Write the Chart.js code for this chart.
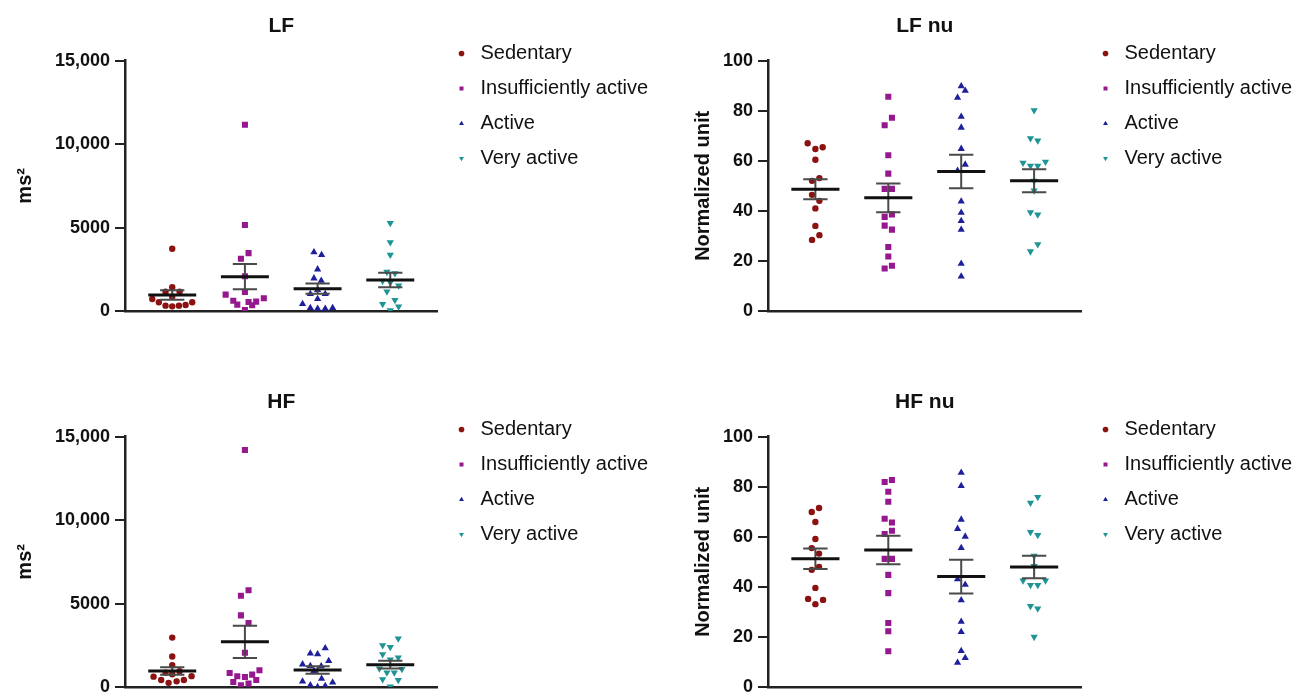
<!DOCTYPE html>
<html>
<head>
<meta charset="utf-8">
<script src="https://cdn.jsdelivr.net/npm/chart.js@4.4.1/dist/chart.umd.min.js"></script>
<style>
html, body { margin: 0; padding: 0; background: #ffffff; overflow: hidden; width: 1293px; height: 693px; }
canvas { position: absolute; }
</style>
</head>
<body>
<canvas id="cLF" width="658" height="340" style="left:0px;top:0px"></canvas>
<canvas id="cLFnu" width="624" height="340" style="left:678px;top:0px"></canvas>
<canvas id="cHF" width="658" height="340" style="left:0px;top:376px"></canvas>
<canvas id="cHFnu" width="624" height="340" style="left:678px;top:376px"></canvas>
<script>
// ---------------- DATA ----------------
const categories = ['Sedentary', 'Insufficiently active', 'Active', 'Very active'];
const panelTitles = ['LF', 'LF nu', 'HF', 'HF nu'];
const yTitles = ['ms\u00B2', 'Normalized unit'];

const msTicks = [0, 5000, 10000, 15000];
const msTickLabels = ['0', '5000', '10,000', '15,000'];
const nuTicks = [0, 20, 40, 60, 80, 100];
const nuTickLabels = ['0', '20', '40', '60', '80', '100'];

// LF (ms²) – values and within-group swarm jitter (category units)
const lfSedentary = [3730, 1420, 1160, 1160, 860, 720, 520, 320, 280, 320, 360, 520];
const lfSedentaryJit = [0, 0, -0.092, 0.101, 0, -0.275, -0.184, -0.092, 0, 0.092, 0.184, 0.275];
const lfInsufficient = [11160, 5150, 3470, 3130, 2080, 1140, 980, 610, 380, 540, 340, 560, 760, 60];
const lfInsufficientJit = [0, 0, 0.05, -0.055, 0, 0, -0.265, -0.16, -0.105, 0.05, 0.1, 0.155, 0.26, 0];
const lfActive = [3530, 3360, 2500, 1960, 1820, 1260, 1020, 1020, 720, 420, 180, 140, 140, 180];
const lfActiveJit = [-0.05, 0.055, 0, -0.05, 0.05, 0, -0.1, 0.105, 0, -0.207, -0.1, 0, 0.105, 0.207];
const lfVery = [5270, 4110, 3370, 2340, 2260, 1800, 1700, 1520, 1160, 660, 420, 260, 40];
const lfVeryJit = [0, 0, 0, -0.046, 0.064, -0.105, 0, 0.115, -0.046, 0.064, -0.105, 0.115, 0];
const lfMean = [960, 2060, 1340, 1860];
const lfSem = [290, 750, 310, 430];

// LF nu (normalized unit)
const lfnuSedentary = [67.0, 64.7, 65.4, 60.4, 53.1, 52.0, 46.4, 44.0, 41.0, 34.0, 30.3, 28.4];
const lfnuSedentaryJit = [-0.106, 0, 0.1, 0, 0.055, -0.046, -0.046, 0.055, 0, 0, 0.055, -0.046];
const lfnuInsufficient = [85.6, 77.2, 74.2, 62.2, 54.9, 48.8, 48.8, 38.6, 37.6, 34.1, 32.5, 25.6, 21.8, 18.1, 17.0];
const lfnuInsufficientJit = [0, 0.05, -0.05, 0, 0, -0.05, 0.05, 0.05, -0.05, -0.05, 0.05, 0, 0, 0.05, -0.05];
const lfnuActive = [89.8, 88.0, 85.2, 77.6, 73.3, 64.8, 58.5, 56.1, 43.8, 39.3, 36.0, 32.5, 18.9, 13.8];
const lfnuActiveJit = [0, 0.055, -0.05, 0, 0, 0, 0.055, -0.05, 0, 0, 0, 0, 0, 0];
const lfnuVery = [80.2, 69.0, 68.1, 59.2, 58.0, 58.0, 59.6, 52.0, 48.1, 39.4, 38.5, 26.6, 23.8];
const lfnuVeryJit = [0, -0.05, 0.05, -0.152, -0.05, 0.05, 0.156, 0, 0, -0.05, 0.05, 0.05, -0.05];
const lfnuMean = [48.6, 45.2, 55.7, 52.0];
const lfnuSem = [4.0, 5.7, 6.7, 4.6];

// HF (ms²)
const hfSedentary = [2960, 1830, 1310, 860, 940, 760, 620, 420, 250, 340, 420, 650];
const hfSedentaryJit = [0, 0, 0, -0.092, 0.1, 0, -0.257, -0.152, -0.05, 0.06, 0.16, 0.266];
const hfInsufficient = [14200, 5800, 5470, 4290, 3830, 2050, 840, 1000, 640, 600, 740, 300, 420, 100, 200];
const hfInsufficientJit = [0, 0.05, -0.055, -0.055, 0.05, 0, -0.21, 0.2, -0.105, 0, 0.1, -0.16, 0.156, -0.055, 0.05];
const hfActive = [2330, 2010, 1970, 1560, 1360, 1260, 1250, 960, 500, 340, 280, 110, 70, 0];
const hfActiveJit = [0.105, -0.1, 0, 0.153, -0.207, -0.1, 0.05, -0.05, 0.055, -0.207, 0.207, -0.1, 0.105, 0];
const hfVery = [2900, 2500, 2390, 1960, 1760, 1640, 1100, 860, 860, 1080, 460, 420, 20];
const hfVeryJit = [0.11, -0.105, 0, -0.105, 0.11, 0, -0.15, -0.046, 0.055, 0.16, -0.105, 0.11, 0];
const hfMean = [960, 2710, 1020, 1340];
const hfSem = [220, 965, 220, 230];

// HF nu (normalized unit)
const hfnuSedentary = [71.5, 69.9, 65.9, 59.1, 55.5, 53.3, 48.0, 46.8, 39.6, 35.2, 34.8, 33.1];
const hfnuSedentaryJit = [0.05, -0.05, 0, 0, -0.05, 0.05, 0.05, -0.05, 0, -0.1, 0.105, 0];
const hfnuInsufficient = [82.7, 81.9, 78.0, 74.0, 67.2, 65.7, 62.4, 61.1, 51.2, 51.2, 44.8, 37.5, 25.6, 22.3, 14.3];
const hfnuInsufficientJit = [0.05, -0.05, 0, 0, -0.05, 0.05, 0.05, -0.05, -0.05, 0.05, 0, 0, 0, 0, 0];
const hfnuActive = [85.6, 80.3, 66.9, 63.2, 60.1, 55.6, 43.1, 40.9, 34.7, 26.1, 22.0, 14.4, 11.6, 9.7];
const hfnuActiveJit = [0, 0, 0, -0.05, 0.055, 0, -0.05, 0.055, 0, 0, 0, 0, 0.055, -0.05];
const hfnuVery = [75.9, 73.6, 61.9, 60.7, 52.4, 48.3, 42.5, 40.7, 40.7, 42.5, 32.3, 31.3, 20.0];
const hfnuVeryJit = [0.05, -0.05, -0.05, 0.05, 0, 0, -0.152, -0.05, 0.05, 0.156, -0.05, 0.05, 0];
const hfnuMean = [51.2, 54.7, 44.1, 47.9];
const hfnuSem = [4.1, 5.7, 6.7, 4.5];

// ---------------- STYLE ----------------
const FONT = "'Liberation Sans', Arial, Helvetica, sans-serif";
const groupColors = ['#8c1111', '#96188f', '#1f1f9b', '#1e9494'];
const pointShapes = ['circle', 'rect', 'triangle', 'triangle'];
const pointRotations = [0, 0, 0, 180];
const pointRadii = [3.2, 4.3, 4.2, 4.2];
const meanHalf = 0.33, capHalf = 0.167;

function buildPanel(id, title, yTitle, values, jitters, mean, sem, yMax, ticks, tickLabels, axisWidth) {
  const pointSets = categories.map((name, g) => ({
    label: name,
    data: values[g].map((v, k) => ({ x: g + jitters[g][k], y: v })),
    pointStyle: pointShapes[g],
    rotation: pointRotations[g],
    pointRadius: pointRadii[g],
    pointBackgroundColor: groupColors[g],
    pointBorderColor: groupColors[g],
    pointBorderWidth: 0,
    backgroundColor: groupColors[g],
    borderColor: groupColors[g],
    order: 0
  }));
  const meanData = [], semData = [];
  mean.forEach((m, g) => {
    const s = sem[g];
    meanData.push({ x: g - meanHalf, y: m }, { x: g + meanHalf, y: m }, { x: g, y: null });
    semData.push(
      { x: g - capHalf, y: m + s }, { x: g + capHalf, y: m + s }, { x: g, y: null },
      { x: g, y: m + s }, { x: g, y: m - s }, { x: g, y: null },
      { x: g - capHalf, y: m - s }, { x: g + capHalf, y: m - s }, { x: g, y: null }
    );
  });
  const datasets = pointSets.concat([
    { label: 'mean', data: meanData, showLine: true, pointRadius: 0, borderColor: '#111111',
      borderWidth: 3, spanGaps: false, order: -2, borderCapStyle: 'butt' },
    { label: 'sem', data: semData, showLine: true, pointRadius: 0, borderColor: '#4a4a4a',
      borderWidth: 2, spanGaps: false, order: -1, borderCapStyle: 'butt' }
  ]);

  new Chart(document.getElementById(id), {
    type: 'scatter',
    data: { datasets },
    options: {
      responsive: false,
      animation: false,
      devicePixelRatio: 1,
      events: [],
      layout: { padding: { top: 0, left: 0, right: 0, bottom: 29 } },
      plugins: {
        tooltip: { enabled: false },
        title: {
          display: true, text: title, fullSize: false, align: 'center',
          color: '#111111', font: { family: FONT, size: 21, weight: 'bold' },
          padding: { top: 14, bottom: 21.5 }
        },
        legend: {
          display: true, position: 'right', align: 'start', fullSize: true, maxWidth: 400,
          title: { display: true, text: '', font: { size: 10 }, padding: { top: 16.5, bottom: 0 } },
          labels: {
            usePointStyle: true, boxWidth: 18, boxHeight: 4, padding: 15,
            color: '#111111', font: { family: FONT, size: 20 },
            filter: (item) => item.datasetIndex < categories.length
          }
        }
      },
      scales: {
        x: {
          type: 'linear', min: -0.65, max: 3.65, display: true,
          ticks: { display: false },
          grid: { display: false, drawTicks: false },
          border: { display: true, width: 2.5, color: '#222222' }
        },
        y: {
          type: 'linear', min: 0, max: yMax,
          afterBuildTicks: (s) => { s.ticks = ticks.map(v => ({ value: v })); },
          afterFit: (s) => { s.width = axisWidth; },
          ticks: {
            callback: (v) => { const i = ticks.indexOf(v); return i >= 0 ? tickLabels[i] : ''; },
            color: '#111111', font: { family: FONT, size: 18, weight: 'bold' }, padding: 5
          },
          grid: { drawOnChartArea: false, drawTicks: true, tickLength: 10, color: '#222222', lineWidth: 2 },
          border: { display: true, width: 2.5, color: '#222222' },
          title: {
            display: true, text: yTitle, color: '#111111',
            font: { family: FONT, size: 20, weight: 'bold' }, padding: { top: 13, bottom: 0 }
          }
        }
      }
    }
  });
}

buildPanel('cLF', panelTitles[0], yTitles[0],
  [lfSedentary, lfInsufficient, lfActive, lfVery],
  [lfSedentaryJit, lfInsufficientJit, lfActiveJit, lfVeryJit],
  lfMean, lfSem, 15000, msTicks, msTickLabels, 125);

buildPanel('cLFnu', panelTitles[1], yTitles[1],
  [lfnuSedentary, lfnuInsufficient, lfnuActive, lfnuVery],
  [lfnuSedentaryJit, lfnuInsufficientJit, lfnuActiveJit, lfnuVeryJit],
  lfnuMean, lfnuSem, 100, nuTicks, nuTickLabels, 90);

buildPanel('cHF', panelTitles[2], yTitles[0],
  [hfSedentary, hfInsufficient, hfActive, hfVery],
  [hfSedentaryJit, hfInsufficientJit, hfActiveJit, hfVeryJit],
  hfMean, hfSem, 15000, msTicks, msTickLabels, 125);

buildPanel('cHFnu', panelTitles[3], yTitles[1],
  [hfnuSedentary, hfnuInsufficient, hfnuActive, hfnuVery],
  [hfnuSedentaryJit, hfnuInsufficientJit, hfnuActiveJit, hfnuVeryJit],
  hfnuMean, hfnuSem, 100, nuTicks, nuTickLabels, 90);
</script>
</body>
</html>
